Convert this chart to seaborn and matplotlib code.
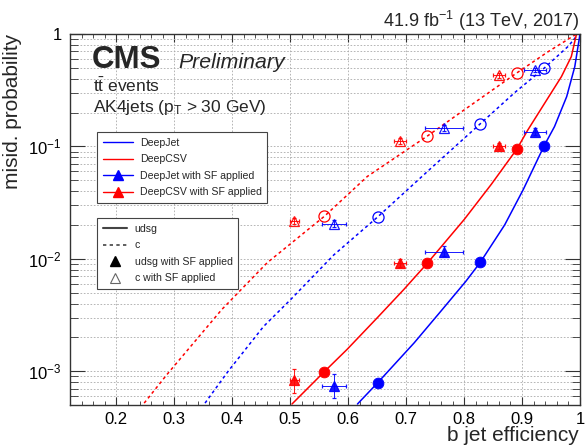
import numpy as np
import pandas as pd
import matplotlib
matplotlib.use('Agg')
import matplotlib.pyplot as plt
import matplotlib.ticker as mticker
from matplotlib.lines import Line2D
import seaborn as sns

# ROC curves: b jet efficiency vs misid. probability
dj_udsg_eff = [0.616, 0.650, 0.714, 0.760, 0.803, 0.828, 0.870, 0.902, 0.938, 0.956, 0.977, 0.991, 1.0]
dj_udsg_mis = [5.1e-4, 7.8e-4, 1.79e-3, 3.42e-3, 6.3e-3, 9.3e-3, 0.0200, 0.0412, 0.101, 0.150, 0.277, 0.512, 1.0]
csv_udsg_eff = [0.503, 0.558, 0.598, 0.650, 0.696, 0.736, 0.800, 0.847, 0.891, 0.910, 0.939, 0.968,
                0.985, 0.994]
csv_udsg_mis = [5.1e-4, 9.8e-4, 1.56e-3, 2.98e-3, 5.33e-3, 9.06e-3, 0.0223, 0.046, 0.0946, 0.140,
                0.242, 0.418, 0.629, 1.0]
dj_c_eff = [0.353, 0.393, 0.454, 0.5, 0.575, 0.651, 0.743, 0.828, 0.887, 0.938, 0.980, 0.997]
dj_c_mis = [5.2e-4, 1.0e-3, 2.5e-3, 4.3e-3, 0.0108, 0.0236, 0.064, 0.159, 0.30, 0.496, 0.78, 1.0]
csv_c_eff = [0.248, 0.287, 0.382, 0.460, 0.559, 0.633, 0.737, 0.800, 0.890, 0.945, 0.994]
csv_c_mis = [5.2e-4, 9.3e-4, 3.54e-3, 9.2e-3, 0.0239, 0.054, 0.124, 0.211, 0.447, 0.696, 1.0]

# working points
dj_wp_eff = [0.651, 0.828, 0.938]
dj_wp_udsg = [7.8e-4, 9.3e-3, 0.101]
dj_wp_c = [0.0236, 0.159, 0.496]
csv_wp_eff = [0.558, 0.736, 0.891]
csv_wp_udsg = [9.8e-4, 9.1e-3, 0.0946]
csv_wp_c = [0.0239, 0.124, 0.447]

# working points with SF applied
dj_sf_eff = [0.576, 0.765, 0.923]
dj_sf_eff_err = [0.021, 0.033, 0.019]
dj_sf_udsg = [7.4e-4, 0.0116, 0.134]
dj_sf_udsg_lo = [5.8e-4, 0.0105, 0.125]
dj_sf_udsg_hi = [9.4e-4, 0.0129, 0.145]
dj_sf_c = [0.0205, 0.146, 0.48]
dj_sf_c_lo = [0.0190, 0.138, 0.46]
dj_sf_c_hi = [0.0222, 0.155, 0.50]
csv_sf_eff = [0.507, 0.689, 0.860]
csv_sf_eff_err = [0.008, 0.010, 0.010]
csv_sf_udsg = [8.3e-4, 0.0091, 0.10]
csv_sf_udsg_lo = [6.4e-4, 0.0084, 0.095]
csv_sf_udsg_hi = [1.04e-3, 0.0099, 0.107]
csv_sf_c = [0.0217, 0.112, 0.43]
csv_sf_c_lo = [0.0205, 0.106, 0.41]
csv_sf_c_hi = [0.0230, 0.119, 0.45]

xticks = [0.2, 0.3, 0.4, 0.5, 0.6, 0.7, 0.8, 0.9, 1.0]
xtick_labels = ['0.2', '0.3', '0.4', '0.5', '0.6', '0.7', '0.8', '0.9', '1']

BLUE = '#0000ff'
RED = '#ff0000'

curves = pd.concat([
    pd.DataFrame({'eff': dj_udsg_eff, 'mis': dj_udsg_mis, 'tagger': 'DeepJet', 'flav': 'udsg'}),
    pd.DataFrame({'eff': csv_udsg_eff, 'mis': csv_udsg_mis, 'tagger': 'DeepCSV', 'flav': 'udsg'}),
    pd.DataFrame({'eff': dj_c_eff, 'mis': dj_c_mis, 'tagger': 'DeepJet', 'flav': 'c'}),
    pd.DataFrame({'eff': csv_c_eff, 'mis': csv_c_mis, 'tagger': 'DeepCSV', 'flav': 'c'}),
], ignore_index=True)

sns.set_style('ticks')
plt.rcParams['font.family'] = ['Liberation Sans', 'DejaVu Sans']
plt.rcParams['mathtext.fontset'] = 'custom'
plt.rcParams['mathtext.rm'] = 'Liberation Sans'
plt.rcParams['mathtext.it'] = 'Liberation Sans:italic'

fig = plt.figure(figsize=(5.85, 4.45), dpi=100)
ax = fig.add_axes([70/585, 1 - 405/445, 510/585, 371/445])

sns.lineplot(data=curves, x='eff', y='mis', hue='tagger', style='flav',
             palette={'DeepJet': BLUE, 'DeepCSV': RED},
             dashes={'udsg': '', 'c': (2, 2)},
             sort=False, estimator=None, units='tagger', lw=1.1,
             legend=False, ax=ax)

# working points
sns.scatterplot(x=dj_wp_eff, y=dj_wp_udsg, color=BLUE, s=60, edgecolor=BLUE, ax=ax, zorder=5)
sns.scatterplot(x=csv_wp_eff, y=csv_wp_udsg, color=RED, s=60, edgecolor=RED, ax=ax, zorder=5)
ax.plot(dj_wp_eff, dj_wp_c, 'o', ms=8, mfc='none', mec=BLUE, mew=0.9, zorder=5)
ax.plot(csv_wp_eff, csv_wp_c, 'o', ms=8, mfc='none', mec=RED, mew=0.9, zorder=5)

# SF applied
for eff, xe, y, lo, hi, col, mfc in [
        (dj_sf_eff, dj_sf_eff_err, dj_sf_udsg, dj_sf_udsg_lo, dj_sf_udsg_hi, BLUE, BLUE),
        (dj_sf_eff, dj_sf_eff_err, dj_sf_c, dj_sf_c_lo, dj_sf_c_hi, BLUE, 'none'),
        (csv_sf_eff, csv_sf_eff_err, csv_sf_udsg, csv_sf_udsg_lo, csv_sf_udsg_hi, RED, RED),
        (csv_sf_eff, csv_sf_eff_err, csv_sf_c, csv_sf_c_lo, csv_sf_c_hi, RED, 'none')]:
    yerr = [np.array(y) - np.array(lo), np.array(hi) - np.array(y)]
    ax.errorbar(eff, y, xerr=xe, yerr=yerr, fmt='^', ms=7.5, color=col, mfc=mfc, mec=col,
                mew=0.9, elinewidth=0.7, capsize=1.5, capthick=0.7, alpha=0.9, zorder=6)

ax.set_yscale('log')
ax.set_xlim(0.12, 1.0)
ax.set_ylim(5e-4, 1)
ax.set_xticks(xticks)
ax.set_xticklabels(xtick_labels)
ax.xaxis.set_minor_locator(mticker.MultipleLocator(0.02))
ax.yaxis.set_major_locator(mticker.FixedLocator([1e-3, 1e-2, 1e-1, 1]))
ax.yaxis.set_major_formatter(mticker.FixedFormatter(
    [r'$10^{-3}$', r'$10^{-2}$', r'$10^{-1}$', '1']))
ax.yaxis.set_minor_locator(mticker.LogLocator(base=10, subs=np.arange(2, 10), numticks=20))
ax.yaxis.set_minor_formatter(mticker.NullFormatter())

ax.tick_params(which='both', direction='in', top=True, right=True, colors='#333333',
               labelcolor='black', labelsize=12)
ax.tick_params(axis='x', which='major', length=6, pad=5)
ax.tick_params(axis='x', which='minor', length=3)
ax.tick_params(axis='y', which='major', length=11, pad=6)
ax.tick_params(axis='y', which='minor', length=6)
for sp in ax.spines.values():
    sp.set_color('#333333')
    sp.set_linewidth(1.0)

ax.grid(axis='x', which='major', color='#aaaaaa', ls=(0, (2, 2)), lw=0.6)
ax.grid(axis='y', which='both', color='#aaaaaa', ls=(0, (2, 2)), lw=0.6)
ax.set_axisbelow(True)
ax.set_xlabel('')
ax.set_ylabel('')

# legends
h1 = [Line2D([], [], color=BLUE, lw=1),
      Line2D([], [], color=RED, lw=1),
      Line2D([], [], color=BLUE, lw=1, marker='^', ms=7),
      Line2D([], [], color=RED, lw=1, marker='^', ms=7)]
l1 = ['DeepJet', 'DeepCSV', 'DeepJet with SF applied', 'DeepCSV with SF applied']
h2 = [Line2D([], [], color='#444444', lw=1.5),
      Line2D([], [], color='#444444', lw=1.2, ls=(0, (2, 2))),
      Line2D([], [], color='black', ls='none', marker='^', ms=7),
      Line2D([], [], color='#666666', ls='none', marker='^', ms=7, mfc='none', mew=0.8)]
l2 = ['udsg', 'c', 'udsg with SF applied', 'c with SF applied']

leg_kw = dict(fontsize=7.6, frameon=True, fancybox=False, framealpha=1, edgecolor='#444444',
              borderpad=0.55, labelspacing=0.62, borderaxespad=0)
leg1 = ax.legend(h1, l1, loc='upper left', bbox_to_anchor=(0.053, 0.736),
                 handlelength=2.9, handletextpad=0.6, **leg_kw)
leg1.get_frame().set_linewidth(0.8)
ax.add_artist(leg1)
leg2 = ax.legend(h2, l2, loc='upper left', bbox_to_anchor=(0.053, 0.504),
                 handlelength=2.3, handletextpad=0.7, **leg_kw)
leg2.get_frame().set_linewidth(0.8)

# texts
def px(x, y):
    return x / 585, 1 - y / 445

fig.text(*px(92, 68), 'CMS', fontsize=22.5, fontweight='bold', ha='left', va='baseline')
fig.text(*px(178, 68), 'Preliminary', fontsize=15.3, style='italic', ha='left', va='baseline')
fig.text(*px(93, 92), r'$\mathrm{t\bar{t}}$ events', fontsize=12.5, ha='left', va='baseline')
fig.text(*px(93, 112), r'AK4jets (p$_\mathrm{T}$ > 30 GeV)', fontsize=12.5, ha='left', va='baseline')
fig.text(*px(579, 27), r'41.9 fb$^{-1}$ (13 TeV, 2017)', fontsize=13, ha='right', va='baseline')
fig.text(*px(579, 441), 'b jet efficiency', fontsize=15, ha='right', va='baseline')
fig.text(*px(22, 34), 'misid. probability', fontsize=15, rotation=90, ha='right', va='top')

fig.savefig('out.png', dpi=100)
